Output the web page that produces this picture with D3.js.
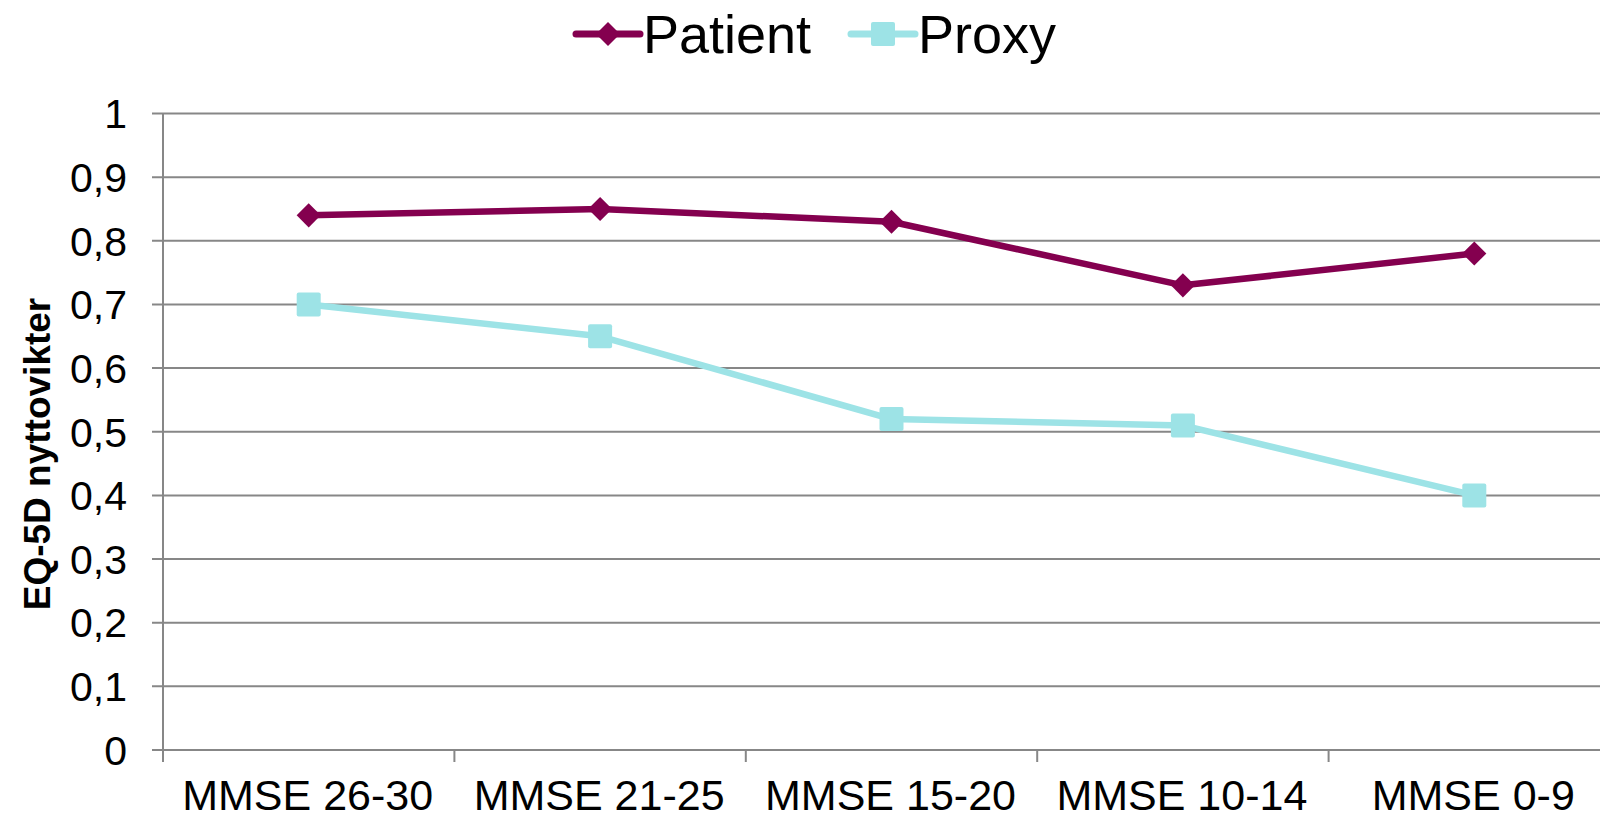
<!DOCTYPE html>
<html>
<head>
<meta charset="utf-8">
<script src="https://cdn.jsdelivr.net/npm/d3@7"></script>
<style>
  html, body { margin: 0; padding: 0; background: #fff; }
  svg { display: block; font-family: "Liberation Sans", Arial, sans-serif; }
</style>
</head>
<body>
<svg id="chart" width="1600" height="820"></svg>
<script>
// EQ-5D utility weights by MMSE group, patient vs proxy ratings
const categories = ["MMSE 26-30", "MMSE 21-25", "MMSE 15-20", "MMSE 10-14", "MMSE 0-9"];
const patientValues = [0.84, 0.85, 0.83, 0.73, 0.78];
const proxyValues = [0.70, 0.65, 0.52, 0.51, 0.40];
const yTicks = [0, 0.1, 0.2, 0.3, 0.4, 0.5, 0.6, 0.7, 0.8, 0.9, 1];
const yTickLabels = ["0", "0,1", "0,2", "0,3", "0,4", "0,5", "0,6", "0,7", "0,8", "0,9", "1"];
const seriesNames = ["Patient", "Proxy"];

const patientColor = "#84004f";
const proxyColor = "#9de3e6";
const gridColor = "#878787";

const svg = d3.select("#chart");
const plotLeft = 163, plotRight = 1620, plotTop = 113.5, plotBottom = 750;

const x = d3.scaleBand().domain(categories).range([plotLeft, plotRight]);
const y = d3.scaleLinear().domain([0, 1]).range([plotBottom, plotTop]);

// horizontal gridlines
svg.append("g").selectAll("line").data(yTicks).join("line")
  .attr("x1", plotLeft - 11).attr("x2", plotRight)
  .attr("y1", d => y(d)).attr("y2", d => y(d))
  .attr("stroke", gridColor).attr("stroke-width", 2);

// vertical axis line
svg.append("line")
  .attr("x1", plotLeft).attr("x2", plotLeft)
  .attr("y1", plotTop).attr("y2", plotBottom + 12)
  .attr("stroke", gridColor).attr("stroke-width", 2);

// category boundary ticks below the x axis
const boundaries = categories.map(c => x(c) + x.bandwidth());
svg.append("g").selectAll("line").data(boundaries).join("line")
  .attr("x1", d => d).attr("x2", d => d)
  .attr("y1", plotBottom).attr("y2", plotBottom + 12)
  .attr("stroke", gridColor).attr("stroke-width", 2);

// y tick labels
svg.append("g").selectAll("text").data(yTicks).join("text")
  .attr("x", 127).attr("y", d => y(d))
  .attr("dy", "0.36em")
  .attr("text-anchor", "end")
  .attr("font-size", 41)
  .attr("fill", "#000")
  .text((d, i) => yTickLabels[i]);

// x category labels
svg.append("g").selectAll("text").data(categories).join("text")
  .attr("x", d => x(d) + x.bandwidth() / 2 - 1)
  .attr("y", 810)
  .attr("text-anchor", "middle")
  .attr("font-size", 43)
  .attr("fill", "#000")
  .text(d => d);

// y axis title
svg.append("text")
  .attr("transform", "translate(50,454) rotate(-90)")
  .attr("text-anchor", "middle")
  .attr("font-size", 37)
  .attr("font-weight", "bold")
  .attr("fill", "#000")
  .text("EQ-5D nyttovikter");

const line = d3.line()
  .x((d, i) => x(categories[i]) + x.bandwidth() / 2)
  .y(d => y(d));

const diamond = d3.symbol().type(d3.symbolDiamond2).size(370);

function drawSeries(values, color, width, shape) {
  const g = svg.append("g");
  g.append("path").datum(values)
    .attr("d", line)
    .attr("fill", "none")
    .attr("stroke", color)
    .attr("stroke-width", width)
    .attr("stroke-linejoin", "round");
  const pts = g.selectAll("g.pt").data(values).join("g")
    .attr("transform", (d, i) => `translate(${x(categories[i]) + x.bandwidth() / 2},${y(d)})`);
  if (shape === "diamond") {
    pts.append("path").attr("d", diamond).attr("fill", color);
  } else {
    pts.append("rect")
      .attr("x", -12).attr("y", -12).attr("width", 24).attr("height", 24)
      .attr("rx", 2).attr("fill", color);
  }
}

drawSeries(proxyValues, proxyColor, 6.5, "square");
drawSeries(patientValues, patientColor, 6.5, "diamond");

// legend
const legend = svg.append("g");
const legendItems = [
  { name: seriesNames[0], color: patientColor, shape: "diamond", x0: 576, w: 7 },
  { name: seriesNames[1], color: proxyColor, shape: "square", x0: 851, w: 7 }
];
const ly = 34;
legendItems.forEach(it => {
  legend.append("line")
    .attr("x1", it.x0).attr("x2", it.x0 + 64)
    .attr("y1", ly).attr("y2", ly)
    .attr("stroke", it.color).attr("stroke-width", it.w)
    .attr("stroke-linecap", "round");
  const cx = it.x0 + 32;
  if (it.shape === "diamond") {
    legend.append("path").attr("d", diamond)
      .attr("transform", `translate(${cx},${ly})`).attr("fill", it.color);
  } else {
    legend.append("rect")
      .attr("x", cx - 12).attr("y", ly - 12).attr("width", 24).attr("height", 24)
      .attr("rx", 2).attr("fill", it.color);
  }
  legend.append("text")
    .attr("x", it.x0 + 67).attr("y", ly)
    .attr("dy", "0.36em")
    .attr("font-size", 54)
    .attr("fill", "#000")
    .text(it.name);
});
</script>
</body>
</html>
